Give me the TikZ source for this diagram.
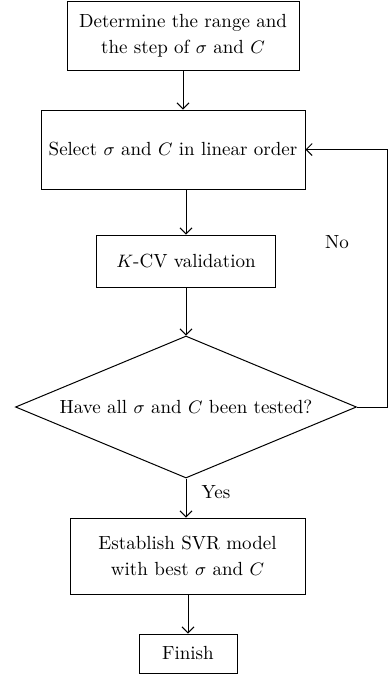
\documentclass[tikz,border=0pt]{standalone}
\usetikzlibrary{shapes.geometric,arrows.meta}
\begin{document}
\begin{tikzpicture}[x=0.5pt,y=-0.5pt,line width=0.5pt,
    every node/.style={font=\fontsize{9.5}{13}\selectfont},
    box/.style={draw,align=center,inner sep=0pt},
    test/.style={draw,diamond,aspect=2.4,inner sep=0pt,minimum width=170.5pt,minimum height=71pt},
    >={Straight Barb[length=3pt,width=6pt]}]
      \useasboundingbox (0,0) rectangle (388,676);
      \draw
        (183,35.5) node[box,minimum width=116pt,minimum height=34.5pt] (range){Determine the range and\\the step of $\sigma$ and $C$}
        (173,149.5) node[box,minimum width=132pt,minimum height=39.5pt] (select){Select $\sigma$ and $C$ in linear order}
        (186,261) node[box,minimum width=89.5pt,minimum height=26pt] (cv){$K$-CV validation}
        (186,407) node[test] (tested){Have all $\sigma$ and $C$ been tested?}
        (187.5,556) node[box,minimum width=117.5pt,minimum height=38pt] (model){Establish SVR model\\with best $\sigma$ and $C$}
        (188,653.5) node[box,minimum width=49pt,minimum height=19.5pt] (finish){Finish}
        (337,242) node (no){No}
        (216,492) node (yes){Yes};
      \coordinate (back) at (387,149.5);
      \begin{scope}[->]
        \draw (range.south) to (range.south |- select.north);
        \draw (cv.north |- select.south) to (cv.north);
        \draw (cv.south) to (tested.north);
        \draw (tested.south) to (tested.south |- model.north);
        \draw (finish.north |- model.south) to (finish.north);
        \draw (tested.east) -| (back) -- (select.east);
      \end{scope}
    \end{tikzpicture}
\end{document}
